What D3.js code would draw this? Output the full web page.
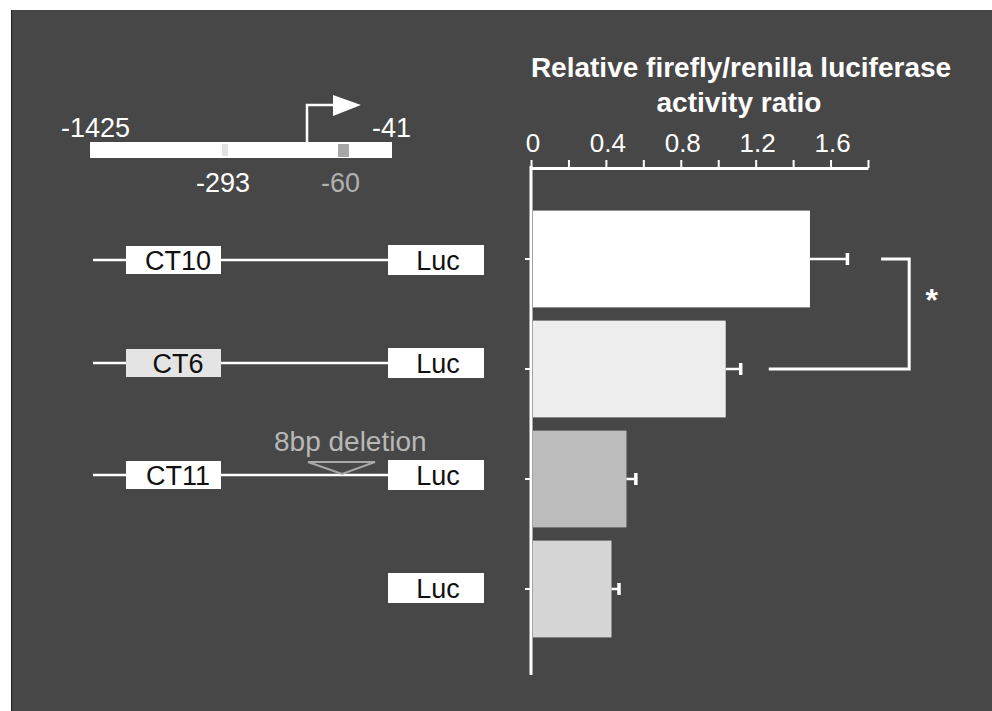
<!DOCTYPE html>
<html><head><meta charset="utf-8">
<script src="https://cdn.jsdelivr.net/npm/d3@7"></script>
<style>html,body{margin:0;padding:0;background:#fff;}svg{display:block;font-family:"Liberation Sans",Arial,sans-serif;}</style>
</head><body>
<script>
// ---- data ----
const categories = ["CT10", "CT6", "CT11", "Luc"];
const values = [1.49, 1.04, 0.51, 0.43];
const errors = [0.20, 0.08, 0.05, 0.04];
const barColors = ["#ffffff", "#eeeeee", "#bcbcbc", "#d6d6d6"];
const tickLabels = [0, 0.4, 0.8, 1.2, 1.6];
const minorTicks = [0, 0.2, 0.4, 0.6, 0.8, 1.0, 1.2, 1.4, 1.6, 1.8];
const promoterLabels = ["-1425", "-41", "-293", "-60"];
const constructBoxes = ["CT10", "CT6", "CT11", null];
const constructFills = ["#ffffff", "#e4e4e4", "#ffffff", null];

const W = 992, H = 711;
const svg = d3.select("body").append("svg").attr("width", W).attr("height", H);

// background
svg.append("rect").attr("x", 11).attr("y", 10).attr("width", W - 11).attr("height", H - 10).attr("fill", "#474747");
svg.append("line").attr("x1", 11.5).attr("x2", 11.5).attr("y1", 10).attr("y2", H).attr("stroke", "#222").attr("stroke-width", 1);

// scales
const x = d3.scaleLinear().domain([0, 1.8]).range([531, 868]);
const y = d3.scaleBand().domain(categories).range([204, 644]).paddingInner(0.12).paddingOuter(0.06);

// title
const title = svg.append("text").attr("fill", "#fff").attr("font-weight", "bold").attr("font-size", 28).attr("text-anchor", "middle");
title.append("tspan").attr("x", 741).attr("y", 77).text("Relative firefly/renilla luciferase");
title.append("tspan").attr("x", 739).attr("y", 112).text("activity ratio");

// top axis
const axisG = svg.append("g").attr("transform", "translate(0,168)")
  .call(d3.axisTop(x).tickValues(minorTicks).tickSize(8).tickFormat("").tickSizeOuter(0));
axisG.select(".domain").attr("stroke", "#fff").attr("stroke-width", 3);
axisG.selectAll(".tick line").attr("stroke", "#fff").attr("stroke-width", 2);
svg.append("g").selectAll("text").data(tickLabels).join("text")
  .attr("x", d => x(d) + 2).attr("y", 152).attr("text-anchor", "middle")
  .attr("fill", "#fff").attr("font-size", 26).text(d => d === 0 ? "0" : d3.format(".1f")(d));

// vertical axis
svg.append("line").attr("x1", x(0)).attr("x2", x(0)).attr("y1", 166).attr("y2", 675).attr("stroke", "#fff").attr("stroke-width", 3);
svg.append("g").selectAll("line").data(categories).join("line")
  .attr("x1", x(0) - 6).attr("x2", x(0)).attr("y1", d => y(d) + y.bandwidth() / 2).attr("y2", d => y(d) + y.bandwidth() / 2)
  .attr("stroke", "#fff").attr("stroke-width", 2);

// bars
svg.append("g").selectAll("rect").data(categories).join("rect")
  .attr("x", x(0) + 2).attr("y", d => y(d)).attr("height", y.bandwidth())
  .attr("width", (d, i) => x(values[i]) - x(0) - 2).attr("fill", (d, i) => barColors[i]);

// error bars
const eb = svg.append("g").attr("stroke", "#fff").attr("stroke-width", 2.5);
categories.forEach((c, i) => {
  const cy = y(c) + y.bandwidth() / 2;
  eb.append("line").attr("x1", x(values[i])).attr("x2", x(values[i] + errors[i])).attr("y1", cy).attr("y2", cy);
  eb.append("line").attr("x1", x(values[i] + errors[i])).attr("x2", x(values[i] + errors[i])).attr("y1", cy - 6).attr("y2", cy + 6).attr("stroke-width", 3.5);
});

// significance bracket
const c1 = y(categories[0]) + y.bandwidth() / 2, c2 = y(categories[1]) + y.bandwidth() / 2;
svg.append("path").attr("d", `M${x(1.87)},${c1}H${x(2.02)}V${c2}H${x(1.27)}`)
  .attr("fill", "none").attr("stroke", "#fff").attr("stroke-width", 3);
svg.append("text").attr("x", x(2.14)).attr("y", c1 + 52).attr("text-anchor", "middle")
  .attr("fill", "#fff").attr("font-size", 32).attr("font-weight", "bold").text("*");

// ---- promoter diagram ----
const d = svg.append("g");
d.append("rect").attr("x", 90).attr("y", 142).attr("width", 302).attr("height", 16).attr("fill", "#fff");
d.append("rect").attr("x", 222).attr("y", 144).attr("width", 6).attr("height", 12).attr("fill", "#e2e2e2");
d.append("rect").attr("x", 338).attr("y", 144).attr("width", 11).attr("height", 13).attr("fill", "#a6a6a6");
d.append("path").attr("d", "M307,142V105H336").attr("fill", "none").attr("stroke", "#fff").attr("stroke-width", 2.5);
d.append("path").attr("d", "M333,95L361,105L333,116Z").attr("fill", "#fff");
d.append("text").attr("x", 61).attr("y", 137).attr("fill", "#fff").attr("font-size", 27).text(promoterLabels[0]);
d.append("text").attr("x", 372).attr("y", 137).attr("fill", "#fff").attr("font-size", 27).text(promoterLabels[1]);
d.append("text").attr("x", 196).attr("y", 192).attr("fill", "#fff").attr("font-size", 27).text(promoterLabels[2]);
d.append("text").attr("x", 321).attr("y", 192).attr("fill", "#b0b0b0").attr("font-size", 27).text(promoterLabels[3]);

// constructs
const rowOffset = [1, -6, -4, -1];
categories.forEach((c, i) => {
  const cy = y(c) + y.bandwidth() / 2 + rowOffset[i];
  const g = svg.append("g");
  if (constructBoxes[i]) {
    g.append("line").attr("x1", 93).attr("x2", 390).attr("y1", cy).attr("y2", cy).attr("stroke", "#fff").attr("stroke-width", 2.5);
    g.append("rect").attr("x", 126).attr("y", cy - 14).attr("width", 95).attr("height", 28).attr("fill", constructFills[i]);
    g.append("text").attr("x", 178).attr("y", cy + 10).attr("text-anchor", "middle").attr("font-size", 27).attr("fill", "#111").text(constructBoxes[i]);
  }
  g.append("rect").attr("x", 388).attr("y", cy - 15).attr("width", 96).attr("height", 30).attr("fill", "#fff");
  g.append("text").attr("x", 438).attr("y", cy + 10).attr("text-anchor", "middle").attr("font-size", 27).attr("fill", "#111").text("Luc");
  if (c === "CT11") {
    g.append("path").attr("d", `M308,${cy - 13}H375L342,${cy - 1}Z`).attr("fill", "none").attr("stroke", "#a8a8a8").attr("stroke-width", 2);
    g.append("text").attr("x", 274).attr("y", cy - 24).attr("fill", "#b8b8b8").attr("font-size", 28).text("8bp deletion");
  }
});
</script>
</body></html>
